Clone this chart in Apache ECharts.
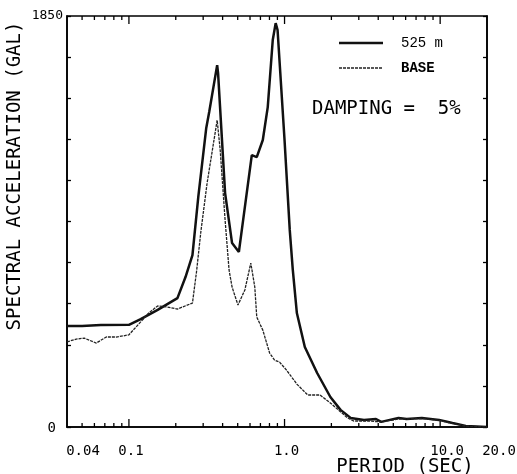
<!DOCTYPE html>
<html><head><meta charset="utf-8">
<script src="https://cdn.jsdelivr.net/npm/echarts@6/dist/echarts.min.js"></script>
<style>html,body{margin:0;padding:0;background:#fff}#c{width:517px;height:474px}</style>
</head><body><div id="c"></div>
<script>
// Period (sec) and spectral acceleration (gal)
const periods525 = [0.04,0.05,0.066,0.1,0.119,0.153,0.205,0.231,0.256,0.279,0.314,0.328,0.369,0.374,0.415,0.46,0.509,0.616,0.663,0.725,0.78,0.84,0.877,0.902,1.0,1.08,1.13,1.2,1.35,1.62,1.97,2.29,2.66,3.24,3.87,4.18,5.4,6.09,7.63,9.85,12,14.6,20];
const accel525   = [455,455,459,460,486,527,580,675,774,1035,1346,1418,1629,1593,1053,828,788,1224,1215,1292,1440,1742,1818,1787,1292,887,707,513,360,243,135,77,41,32,36,23,41,36,41,32,18,5,0];
const periodsBase = [0.04,0.0459,0.0516,0.0617,0.0715,0.0827,0.0916,0.1,0.119,0.134,0.153,0.177,0.205,0.256,0.272,0.29,0.318,0.369,0.386,0.415,0.44,0.46,0.502,0.556,0.607,0.644,0.663,0.725,0.802,0.863,0.929,1.03,1.2,1.41,1.69,1.97,2.54,2.78,3.43,4.18,5.4,7.63,9.85,12,14.6,20];
const accelBase   = [383,396,400,378,405,405,410,415,473,513,545,540,531,558,700,880,1098,1381,1246,931,707,630,549,617,738,630,495,436,333,301,292,256,193,144,144,108,41,27,27,23,36,38,30,16,4,0];
const seriesNames = ['525 m','BASE'];
const minorTickValues = [0.05,0.06,0.07,0.08,0.09,0.2,0.3,0.4,0.5,0.6,0.7,0.8,0.9,2,3,4,5,6,7,8,9];
const majorTickValues = [0.1,1,10];
const xLabelValues = [0.04,0.1,1,10,20];
const xLabelTexts = ['0.04','0.1','1.0','10.0','20.0'];
const yMin = 0, yMax = 1850, yInterval = 185;
const yLabelTexts = ['0','1850'];

const zip = (a,b) => a.map((v,i)=>[v,b[i]]);
const tickData = minorTickValues.map(v=>[v,0,4]).concat(majorTickValues.map(v=>[v,0,8]));

const lineStyles = [
  {color:'#111',width:2.5,type:'solid'},
  {color:'#222',width:1.3,type:[3,1]}
];

const chart = echarts.init(document.getElementById('c'), null, {renderer:'canvas'});
const mono = 'DejaVu Sans Mono';
chart.setOption({
  animation:false,
  backgroundColor:'#fff',
  grid:{left:67,right:30,top:16,bottom:47,show:true,borderColor:'#000',borderWidth:1.6,backgroundColor:'transparent'},
  xAxis:{type:'log',logBase:10,min:0.04,max:20,
    axisLine:{show:true,lineStyle:{color:'#000',width:1.6}},
    axisTick:{show:false},axisLabel:{show:false},splitLine:{show:false}},
  yAxis:[
    {type:'value',min:yMin,max:yMax,interval:yInterval,position:'left',
     axisLine:{show:true,lineStyle:{color:'#000',width:1.6}},
     axisTick:{show:true,inside:true,length:4,lineStyle:{color:'#000',width:1.3}},
     axisLabel:{show:false},splitLine:{show:false}},
    {type:'value',min:yMin,max:yMax,interval:yInterval,position:'right',
     axisLine:{show:true,lineStyle:{color:'#000',width:1.6}},
     axisTick:{show:true,inside:true,length:4,lineStyle:{color:'#000',width:1.3}},
     axisLabel:{show:false},splitLine:{show:false}}
  ],
  series:[
    {name:seriesNames[0],type:'line',data:zip(periods525,accel525),symbol:'none',showSymbol:false,smooth:false,
     lineStyle:lineStyles[0],itemStyle:{color:lineStyles[0].color}},
    {name:seriesNames[1],type:'line',data:zip(periodsBase,accelBase),symbol:'none',showSymbol:false,smooth:false,
     lineStyle:lineStyles[1],itemStyle:{color:lineStyles[1].color}},
    {type:'custom',name:'ticks',silent:true,data:tickData,encode:{x:0,y:1},clip:false,
     renderItem:function(params,api){
       const b = api.coord([api.value(0),yMin]);
       const t = api.coord([api.value(0),yMax]);
       const len = api.value(2);
       return {type:'group',children:[
         {type:'line',shape:{x1:b[0],y1:b[1],x2:b[0],y2:b[1]-len},style:{stroke:'#000',lineWidth:1.3}},
         {type:'line',shape:{x1:t[0],y1:t[1],x2:t[0],y2:t[1]+len},style:{stroke:'#000',lineWidth:1.3}}
       ]};
     }}
  ]
});

const px = v => chart.convertToPixel({xAxisIndex:0}, v);
const py = v => chart.convertToPixel({yAxisIndex:0}, v);
const xOffsets = [16,2,2,7,12];
const g = [];
xLabelValues.forEach((v,i)=>{
  g.push({type:'text',x:px(v)+xOffsets[i],y:py(yMin)+24,
    style:{text:xLabelTexts[i],fontFamily:mono,fontSize:14,fill:'#000',align:'center',verticalAlign:'middle'}});
});
const x0 = px(0.04);
g.push({type:'text',x:x0-11,y:py(yMin)+1,style:{text:yLabelTexts[0],fontFamily:mono,fontSize:14,fill:'#000',align:'right',verticalAlign:'middle'}});
g.push({type:'text',x:x0-4,y:py(yMax),style:{text:yLabelTexts[1],fontFamily:mono,fontSize:13,fill:'#000',align:'right',verticalAlign:'middle'}});
g.push({type:'text',x:405,y:467,style:{text:'PERIOD (SEC)',fontFamily:mono,fontSize:19,fill:'#000',align:'center',verticalAlign:'middle'}});
g.push({type:'text',x:15,y:176,rotation:Math.PI/2,style:{text:'SPECTRAL ACCELERATION (GAL)',fontFamily:mono,fontSize:19,fill:'#000',align:'center',verticalAlign:'middle'}});
g.push({type:'text',x:312,y:109,style:{text:'DAMPING =  5%',fontFamily:mono,fontSize:19,fill:'#000',align:'left',verticalAlign:'middle'}});
// legend
const legendY = [43,68];
const legendWeight = ['normal','bold'];
seriesNames.forEach((n,i)=>{
  const ls = lineStyles[i];
  g.push({type:'line',shape:{x1:339,y1:legendY[i],x2:383,y2:legendY[i]},
    style:{stroke:ls.color,lineWidth:ls.width,lineDash:ls.type==='solid'?null:ls.type}});
  g.push({type:'text',x:401,y:legendY[i],style:{text:n,fontFamily:'Liberation Mono',fontSize:14,fontWeight:legendWeight[i],fill:'#000',align:'left',verticalAlign:'middle'}});
});
chart.setOption({graphic:g});
</script></body></html>
